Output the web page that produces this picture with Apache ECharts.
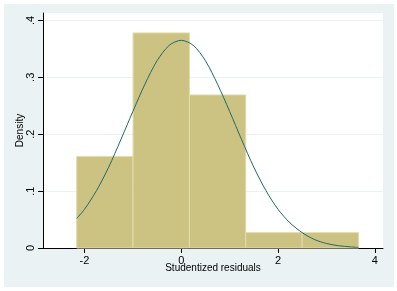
<!DOCTYPE html>
<html>
<head>
<meta charset="utf-8">
<script src="https://cdn.jsdelivr.net/npm/echarts@6/dist/echarts.min.js"></script>
<style>
html, body { margin: 0; padding: 0; background: #fff; }
#main { width: 397px; height: 291px; }
</style>
</head>
<body>
<div id="main"></div>
<script>
// histogram bins (studentized residuals) and density heights
var binStart = [-2.161, -0.996, 0.169, 1.334, 2.499];
var binEnd = [-0.996, 0.169, 1.334, 2.499, 3.664];
var binDensity = [0.161, 0.378, 0.269, 0.027, 0.027];

// normal density overlay
var curveX = [-2.16, -2.0, -1.75, -1.5, -1.25, -1.0, -0.75, -0.5, -0.25, 0, 0.25, 0.5, 0.75, 1.0, 1.25, 1.5, 1.75, 2.0, 2.25, 2.5, 2.75, 3.0, 3.25, 3.5, 3.66];
var curveY = [0.052, 0.068, 0.101, 0.142, 0.190, 0.240, 0.288, 0.329, 0.356, 0.365, 0.356, 0.329, 0.288, 0.240, 0.190, 0.142, 0.101, 0.068, 0.044, 0.027, 0.015, 0.008, 0.004, 0.002, 0.001];

var xTicks = [-2, 0, 2, 4];
var yTicks = [0, 0.1, 0.2, 0.3, 0.4];

var bars = [];
for (var i = 0; i < binStart.length; i++) {
    bars.push([binStart[i], binEnd[i], binDensity[i]]);
}
var curve = [];
for (var j = 0; j < curveX.length; j++) {
    curve.push([curveX[j], curveY[j]]);
}

var myChart = echarts.init(document.getElementById('main'));
var fontFam = '"Liberation Sans", Arial, sans-serif';

var option = {
    backgroundColor: '#fff',
    animation: false,
    graphic: [
        {
            type: 'rect',
            z: -100,
            silent: true,
            shape: { x: 4, y: 4, width: 390, height: 283 },
            style: { fill: '#EAF2F3' }
        }
    ],
    grid: {
        left: 43,
        top: 13,
        right: 14,
        bottom: 43,
        show: true,
        backgroundColor: '#fff',
        borderWidth: 0
    },
    xAxis: {
        type: 'value',
        min: -2.857,
        max: 4.17,
        name: 'Studentized residuals',
        nameLocation: 'middle',
        nameGap: 15,
        nameMoveOverlap: false,
        nameTextStyle: { color: '#000', fontSize: 10, fontFamily: fontFam },
        axisLine: { show: true, onZero: false, lineStyle: { color: '#000', width: 1 } },
        axisTick: { show: true, length: 5, customValues: xTicks, lineStyle: { color: '#000' } },
        axisLabel: {
            customValues: xTicks,
            margin: 7,
            color: '#000',
            fontSize: 11,
            fontFamily: fontFam
        },
        splitLine: { show: false }
    },
    yAxis: {
        type: 'value',
        min: 0,
        max: 0.413,
        name: 'Density',
        nameLocation: 'middle',
        nameGap: 18,
        nameRotate: 90,
        nameMoveOverlap: false,
        nameTextStyle: { color: '#000', fontSize: 10, fontFamily: fontFam },
        axisLine: { show: true, onZero: false, lineStyle: { color: '#000', width: 1 } },
        axisTick: { show: true, length: 5, customValues: yTicks, lineStyle: { color: '#000' } },
        axisLabel: {
            customValues: yTicks,
            rotate: 90,
            margin: 7,
            color: '#000',
            fontSize: 11,
            fontFamily: fontFam,
            formatter: function (v) {
                if (v === 0) return '0';
                return String(Math.round(v * 10) / 10).replace(/^0/, '');
            }
        },
        splitLine: { show: true, lineStyle: { color: '#EAF2F3', width: 1 } }
    },
    series: [
        {
            type: 'custom',
            data: bars,
            encode: { x: [0, 1], y: 2 },
            renderItem: function (params, api) {
                var p0 = api.coord([api.value(0), api.value(2)]);
                var p1 = api.coord([api.value(1), 0]);
                return {
                    type: 'rect',
                    shape: { x: p0[0], y: p0[1], width: p1[0] - p0[0], height: p1[1] - p0[1] },
                    style: { fill: '#CCC382', stroke: '#E2DCAA', lineWidth: 1 }
                };
            },
            z: 2
        },
        {
            type: 'line',
            data: curve,
            smooth: 0.3,
            showSymbol: false,
            symbol: 'none',
            lineStyle: { color: '#1F6A6A', width: 1 },
            z: 3
        }
    ]
};

myChart.setOption(option);
</script>
</body>
</html>
